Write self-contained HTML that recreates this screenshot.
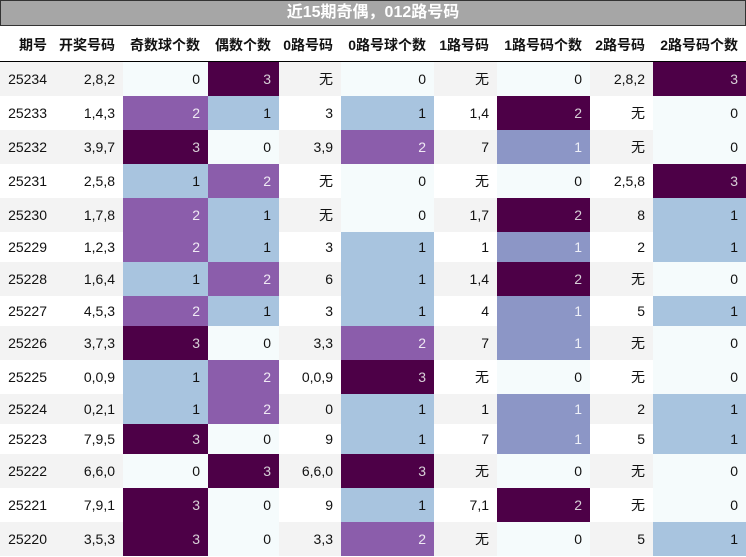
<!DOCTYPE html>
<html><head><meta charset="utf-8">
<style>
body{margin:0;width:746px;height:557px;overflow:hidden;background:#fff;font-family:"Liberation Sans","Noto Sans CJK SC",sans-serif;}
#t{position:absolute;left:0;top:0;width:744px;height:24px;background:#a6a6a6;border:1px solid #333;color:#fff;font-weight:bold;font-size:16px;line-height:24px;text-align:center;}
.c{position:absolute;box-sizing:border-box;padding-right:8px;text-align:right;font-size:14px;color:#111;}
.h{font-weight:bold;top:26px;height:35px;line-height:38px;}
#hl{position:absolute;left:0;top:61px;width:746px;height:1px;background:#000;}
</style></head><body>
<div id="t">近15期奇偶，012路号码</div>
<div id="hl"></div>
<div id="tb"></div>
<script>
const headers=["期号","开奖号码","奇数球个数","偶数个数","0路号码","0路号球个数","1路号码","1路号码个数","2路号码","2路号码个数"];
const periods=["25234","25233","25232","25231","25230","25229","25228","25227","25226","25225","25224","25223","25222","25221","25220"];
const draws=["2,8,2","1,4,3","3,9,7","2,5,8","1,7,8","1,2,3","1,6,4","4,5,3","3,7,3","0,0,9","0,2,1","7,9,5","6,6,0","7,9,1","3,5,3"];
const oddCount=[0,2,3,1,2,2,1,2,3,1,1,3,0,3,3];
const evenCount=[3,1,0,2,1,1,2,1,0,2,2,0,3,0,0];
const road0=["无","3","3,9","无","无","3","6","3","3,3","0,0,9","0","9","6,6,0","9","3,3"];
const road0Count=[0,1,2,0,0,1,1,1,2,3,1,1,3,1,2];
const road1=["无","1,4","7","无","1,7","1","1,4","4","7","无","1","7","无","7,1","无"];
const road1Count=[0,2,1,0,2,1,2,1,1,0,1,1,0,2,0];
const road2=["2,8,2","无","无","2,5,8","8","2","无","5","无","无","2","5","无","无","5"];
const road2Count=[3,0,0,3,1,1,0,1,0,0,1,1,0,0,1];
const colX=[0,55,123,208,279,341,434,497,590,653,746];
const rowH=[34,34,34,34,34,30,34,30,34,34,30,30,34,34,34];
const pal3={0:"#f5fbfc",1:"#a8c4df",2:"#8b5dab",3:"#4d0047"};
const pal2={0:"#f5fbfc",1:"#8c96c6",2:"#4d0047"};
const tb=document.getElementById('tb');
function cell(x,y,w,h,txt,bg,fg,cls){const d=document.createElement('div');d.className='c '+(cls||'');d.style.left=x+'px';d.style.top=y+'px';d.style.width=w+'px';d.style.height=h+'px';d.style.lineHeight=h+'px';if(bg)d.style.background=bg;if(fg)d.style.color=fg;d.textContent=txt;tb.appendChild(d);return d;}
headers.forEach((t,i)=>{const d=cell(colX[i],26,colX[i+1]-colX[i],35,t,null,null,'h');d.style.lineHeight='38px';

});
let y=62;
periods.forEach((p,r)=>{const h=rowH[r];const base=r%2===0?"#f3f3f3":"#ffffff";
const rowBg=document.createElement('div');rowBg.style.cssText=`position:absolute;left:0;top:${y}px;width:746px;height:${h}px;background:${base}`;


tb.appendChild(rowBg);
const vals=[p,draws[r],oddCount[r],evenCount[r],road0[r],road0Count[r],road1[r],road1Count[r],road2[r],road2Count[r]];
vals.forEach((v,i)=>{let bg=null,fg=null;
if(i===2||i===3||i===5||i===9){bg=pal3[v];if(v>=2)fg=v===3?"#d8d0d8":"#f0eaf4";}
else if(i===7){bg=pal2[v];if(v===2)fg="#d8d0d8";if(v===1)fg="#eef0f8";}
const d=cell(colX[i],y,colX[i+1]-colX[i],h,String(v),bg,fg);

});
y+=h;});
</script>
</body></html>
